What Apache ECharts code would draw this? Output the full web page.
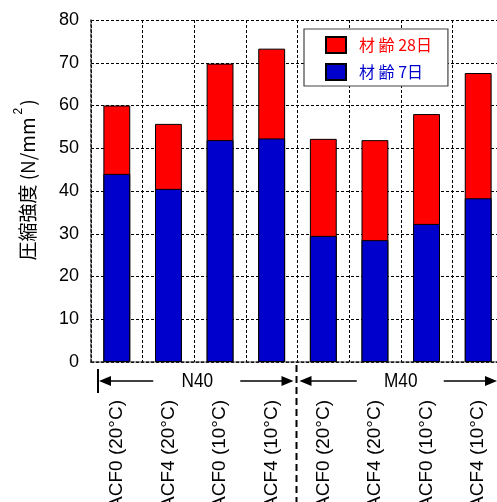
<!DOCTYPE html>
<html>
<head>
<meta charset="utf-8">
<script src="https://cdn.jsdelivr.net/npm/echarts@6/dist/echarts.min.js"></script>
<style>
  html, body { margin: 0; padding: 0; background: #fff; }
  #chart { width: 497px; height: 502px; }
</style>
</head>
<body>
<div id="chart"></div>
<script>
// Compressive strength by mix and curing temperature
const categories = ['ACF0 (20°C)', 'ACF4 (20°C)', 'ACF0 (10°C)', 'ACF4 (10°C)',
                    'ACF0 (20°C)', 'ACF4 (20°C)', 'ACF0 (10°C)', 'ACF4 (10°C)'];
const age28 = [60.0, 55.7, 69.8, 73.3, 52.2, 51.9, 58.0, 67.6];
const age7  = [44.0, 40.5, 51.9, 52.3, 29.5, 28.5, 32.3, 38.3];
const yTicks = { min: 0, max: 80, interval: 10 };
const groups = [{ name: 'N40', from: 0, to: 3 }, { name: 'M40', from: 4, to: 7 }];

const SANS = '"Liberation Sans", Arial, sans-serif';
const JP = '"Noto Sans CJK JP", sans-serif';

const chart = echarts.init(document.getElementById('chart'));

const option = {
  animation: false,
  backgroundColor: '#fff',
  grid: { left: 91, top: 20, width: 413, height: 342, containLabel: false, outerBoundsMode: 'none' },
  legend: {
    left: 304, top: 29, orient: 'vertical',
    padding: [7, 16, 5, 21],
    itemWidth: 20, itemHeight: 16, itemGap: 9,
    borderColor: '#444', borderWidth: 1.2, backgroundColor: '#fff',
    textStyle: { fontFamily: JP, fontSize: 16, padding: [0, 0, 0, 8] },
    data: [
      { name: '材 齢 28日', icon: 'rect', textStyle: { color: '#ff0000' } },
      { name: '材 齢 7日', icon: 'rect', textStyle: { color: '#0000cc' } }
    ]
  },
  xAxis: {
    type: 'category',
    data: categories,
    axisLine: { lineStyle: { color: '#222', width: 1.5, type: [3, 2] } },
    axisTick: { show: false },
    splitLine: { show: true, interval: 0, lineStyle: { color: '#000', width: 1, type: [3, 2] } },
    axisLabel: {
      interval: 0, rotate: 90, margin: 38, hideOverlap: false,
      fontFamily: SANS, fontSize: 19, color: '#000'
    }
  },
  yAxis: {
    type: 'value',
    min: yTicks.min, max: yTicks.max, interval: yTicks.interval,
    axisLine: { show: true, lineStyle: { color: '#222', width: 1.5, type: [3, 2] } },
    axisTick: { show: false },
    splitLine: { show: true, lineStyle: { color: '#000', width: 1, type: [3, 2] } },
    axisLabel: { margin: 12, fontFamily: SANS, fontSize: 18, color: '#000' }
  },
  series: [
    {
      name: '材 齢 28日', type: 'bar', data: age28, barWidth: '52%', barGap: '-100%',
      itemStyle: { color: '#ff0000', borderColor: '#000', borderWidth: 1 }
    },
    {
      name: '材 齢 7日', type: 'bar', data: age7, barWidth: '52%', barGap: '-100%',
      itemStyle: { color: '#0000cc', borderColor: '#000', borderWidth: 1 }
    }
  ]
};
chart.setOption(option);

// Group annotations under the axis: arrows, group names and a divider
function px(i) { return chart.convertToPixel({ xAxisIndex: 0 }, i); }
const band = px(1) - px(0);
const axisY = chart.convertToPixel({ yAxisIndex: 0 }, 0);
const arrowY = axisY + 19;
const els = [];

function arrowHead(x, dir) {
  // dir = -1 points left, +1 points right; x is the tip
  return {
    type: 'polygon',
    shape: { points: [[x, arrowY], [x - dir * 12, arrowY - 5], [x - dir * 12, arrowY + 5]] },
    style: { fill: '#000' }
  };
}
function hline(x1, x2) {
  return { type: 'line', shape: { x1: x1, y1: arrowY, x2: x2, y2: arrowY }, style: { stroke: '#000', lineWidth: 1.5 } };
}

groups.forEach(function (g, gi) {
  const left = px(g.from) - band / 2;
  const right = px(g.to) + band / 2;
  const mid = (left + right) / 2 + (gi === 0 ? 3 : 0);
  const tipL = gi === 0 ? left + 8 : left + 2;
  const tipR = gi === 0 ? right - 4 : right - 7;
  els.push({
    type: 'text', x: mid, y: arrowY, scaleX: 0.82,
    style: { text: g.name, align: 'center', verticalAlign: 'middle',
             fontFamily: SANS, fontSize: 21, fill: '#000' }
  });
  els.push(hline(tipL + 2, mid - 44));
  els.push(arrowHead(tipL, -1));
  els.push(hline(mid + 43, tipR - 4));
  els.push(arrowHead(tipR, 1));
  if (gi === 0) {
    els.push({ type: 'line', shape: { x1: tipL - 1, y1: arrowY - 12, x2: tipL - 1, y2: arrowY + 12 }, style: { stroke: '#000', lineWidth: 2 } });
  }
});
const divX = px(groups[0].to) + band / 2 - 1;
els.push({
  type: 'line', shape: { x1: divX, y1: axisY + 3, x2: divX, y2: 502 },
  style: { stroke: '#000', lineWidth: 2, lineDash: [7, 4] }
});

// Vertical axis title with superscript
els.push({
  type: 'text', x: 25, y: 180, rotation: Math.PI / 2,
  style: {
    text: '{a|圧縮強度 (N/mm}{s|2}{a|)}',
    align: 'center', verticalAlign: 'middle',
    rich: {
      a: { fontFamily: JP, fontSize: 19, fill: '#000', verticalAlign: 'bottom' },
      s: { fontFamily: SANS, fontSize: 12, fill: '#000', padding: [0, 2, 12, 3], verticalAlign: 'bottom' }
    }
  }
});

chart.setOption({ graphic: { elements: els } });
</script>
</body>
</html>
